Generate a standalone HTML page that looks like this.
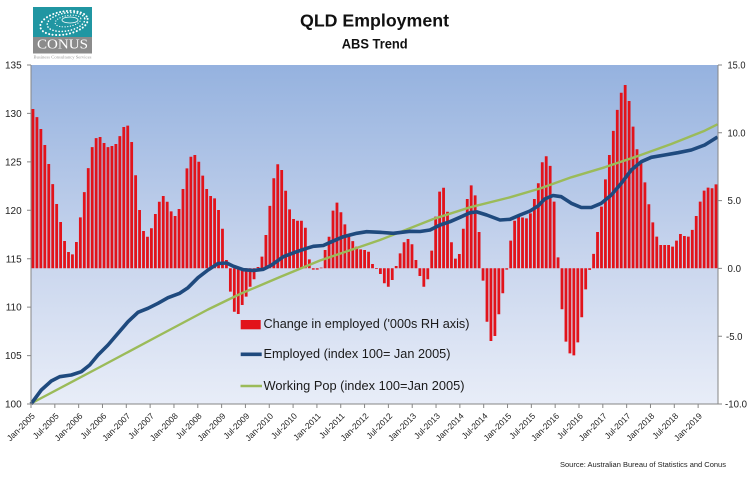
<!DOCTYPE html>
<html>
<head>
<meta charset="utf-8">
<style>
html,body{margin:0;padding:0;background:#fff;}
svg{display:block;}
text{font-family:"Liberation Sans",sans-serif;}
</style>
</head>
<body>
<svg width="750" height="489" viewBox="0 0 750 489" xmlns="http://www.w3.org/2000/svg">
<defs>
<linearGradient id="bg" x1="0" y1="0" x2="0" y2="1">
<stop offset="0" stop-color="#95b2df"/>
<stop offset="0.6" stop-color="#cbd7ee"/>
<stop offset="1" stop-color="#e8edf8"/>
</linearGradient>
</defs>
<rect x="0" y="0" width="750" height="489" fill="#fff"/>

<!-- Logo -->
<rect x="33" y="7" width="59" height="30" fill="#2096a2"/>
<rect x="33" y="37" width="59" height="16.5" fill="#8b8b8b"/>
<g fill="none" stroke="#fff" stroke-linecap="round">
<ellipse cx="68" cy="21" rx="13" ry="5.5" stroke-width="1.2" stroke-dasharray="0.1 2.6" transform="rotate(-10 68 21)"/>
<ellipse cx="66" cy="22" rx="19" ry="9" stroke-width="1.6" stroke-dasharray="0.1 3" transform="rotate(-10 66 22)"/>
<ellipse cx="64" cy="23" rx="24" ry="11.5" stroke-width="2" stroke-dasharray="0.1 3.4" transform="rotate(-10 64 23)"/>
<ellipse cx="70" cy="20" rx="8" ry="3" stroke-width="0.8"/>
</g>
<text x="62.5" y="48.6" text-anchor="middle" font-size="13.5" fill="#fff" textLength="51" lengthAdjust="spacingAndGlyphs" style="font-family:'Liberation Serif',serif">CONUS</text>
<text x="33.5" y="58.3" font-size="3.6" fill="#999" textLength="58" lengthAdjust="spacingAndGlyphs" style="font-family:'Liberation Serif',serif">Business Consultancy Services</text>

<!-- Titles -->
<text x="374.5" y="26.7" text-anchor="middle" font-size="17.7" font-weight="bold" fill="#111" textLength="149" lengthAdjust="spacingAndGlyphs">QLD Employment</text>
<text x="374.7" y="48.3" text-anchor="middle" font-size="13.5" font-weight="bold" fill="#111" textLength="66" lengthAdjust="spacingAndGlyphs">ABS Trend</text>

<!-- Plot area -->
<rect x="31" y="65" width="687" height="339" fill="url(#bg)"/>

<!-- Bars (secondary axis) -->
<g transform="translate(31,268.3) scale(3.948,-13.56)">
<path fill="#e2131b" d="M.145,0
v11.75h.709v-11.75m.291,0
v11.15h.709v-11.15m.291,0
v10.27h.709v-10.27m.291,0
v9.09h.709v-9.09m.291,0
v7.69h.709v-7.69m.291,0
v6.21h.709v-6.21m.291,0
v4.74h.709v-4.74m.291,0
v3.41h.709v-3.41m.291,0
v2.01h.709v-2.01m.291,0
v1.2h.709v-1.2m.291,0
v1.03h.709v-1.03m.291,0
v1.94h.709v-1.94m.291,0
v3.76h.709v-3.76m.291,0
v5.62h.709v-5.62m.291,0
v7.39h.709v-7.39m.291,0
v8.94h.709v-8.94m.291,0
v9.6h.709v-9.6m.291,0
v9.68h.709v-9.68m.291,0
v9.24h.709v-9.24m.291,0
v8.94h.709v-8.94m.291,0
v9.02h.709v-9.02m.291,0
v9.17h.709v-9.17m.291,0
v9.75h.709v-9.75m.291,0
v10.42h.709v-10.42m.291,0
v10.52h.709v-10.52m.291,0
v9.31h.709v-9.31m.291,0
v6.86h.709v-6.86m.291,0
v4.3h.709v-4.3m.291,0
v2.75h.709v-2.75m.291,0
v2.33h.709v-2.33m.291,0
v2.95h.709v-2.95m.291,0
v4h.709v-4m.291,0
v4.91h.709v-4.91m.291,0
v5.33h.709v-5.33m.291,0
v4.91h.709v-4.91m.291,0
v4.2h.709v-4.2m.291,0
v3.86h.709v-3.86m.291,0
v4.37h.709v-4.37m.291,0
v5.85h.709v-5.85m.291,0
v7.37h.709v-7.37m.291,0
v8.23h.709v-8.23m.291,0
v8.36h.709v-8.36m.291,0
v7.86h.709v-7.86m.291,0
v6.83h.709v-6.83m.291,0
v5.85h.709v-5.85m.291,0
v5.33h.709v-5.33m.291,0
v5.16h.709v-5.16m.291,0
v4.3h.709v-4.3m.291,0
v2.92h.709v-2.92m.291,0
v.61h.709v-.61m.291,0
v-1.72h.709v1.72m.291,0
v-3.2h.709v3.2m.291,0
v-3.37h.709v3.37m.291,0
v-2.71h.709v2.71m.291,0
v-2.09h.709v2.09m.291,0
v-1.36h.709v1.36m.291,0
v-.81h.709v.81m.291,0
v.1h.709v-.1m.291,0
v.86h.709v-.86m.291,0
v2.46h.709v-2.46m.291,0
v4.6h.709v-4.6m.291,0
v6.64h.709v-6.64m.291,0
v7.67h.709v-7.67m.291,0
v7.25h.709v-7.25m.291,0
v5.72h.709v-5.72m.291,0
v4.35h.709v-4.35m.291,0
v3.64h.709v-3.64m.291,0
v3.51h.709v-3.51m.291,0
v3.51h.709v-3.51m.291,0
v2.99h.709v-2.99m.291,0
v.66h.709v-.66m.291,0
v-.1h.709v.1m.291,0
v-.1h.709v.1m.291,0
v.05h.709v-.05m.291,0
v1.35h.709v-1.35m.291,0
v2.33h.709v-2.33m.291,0
v4.25h.709v-4.25m.291,0
v4.84h.709v-4.84m.291,0
v4.13h.709v-4.13m.291,0
v3.24h.709v-3.24m.291,0
v2.5h.709v-2.5m.291,0
v2h.709v-2m.291,0
v1.6h.709v-1.6m.291,0
v1.4h.709v-1.4m.291,0
v1.35h.709v-1.35m.291,0
v1.22h.709v-1.22m.291,0
v.32h.709v-.32m.291,0
v-.05h.709v.05m.291,0
v-.42h.709v.42m.291,0
v-1.1h.709v1.1m.291,0
v-1.36h.709v1.36m.291,0
v-.86h.709v.86m.291,0
v.17h.709v-.17m.291,0
v1.1h.709v-1.1m.291,0
v1.92h.709v-1.92m.291,0
v2.16h.709v-2.16m.291,0
v1.77h.709v-1.77m.291,0
v.61h.709v-.61m.291,0
v-.57h.709v.57m.291,0
v-1.36h.709v1.36m.291,0
v-.81h.709v.81m.291,0
v1.3h.709v-1.3m.291,0
v3.81h.709v-3.81m.291,0
v5.65h.709v-5.65m.291,0
v5.94h.709v-5.94m.291,0
v4.17h.709v-4.17m.291,0
v1.92h.709v-1.92m.291,0
v.71h.709v-.71m.291,0
v1.05h.709v-1.05m.291,0
v2.92h.709v-2.92m.291,0
v5.11h.709v-5.11m.291,0
v6.12h.709v-6.12m.291,0
v5.38h.709v-5.38m.291,0
v2.68h.709v-2.68m.291,0
v-.91h.709v.91m.291,0
v-3.94h.709v3.94m.291,0
v-5.36h.709v5.36m.291,0
v-4.99h.709v4.99m.291,0
v-3.39h.709v3.39m.291,0
v-1.84h.709v1.84m.291,0
v-.1h.709v.1m.291,0
v2.04h.709v-2.04m.291,0
v3.51h.709v-3.51m.291,0
v3.93h.709v-3.93m.291,0
v3.75h.709v-3.75m.291,0
v3.68h.709v-3.68m.291,0
v4.05h.709v-4.05m.291,0
v5.11h.709v-5.11m.291,0
v6.27h.709v-6.27m.291,0
v7.82h.709v-7.82m.291,0
v8.26h.709v-8.26m.291,0
v7.55h.709v-7.55m.291,0
v4.92h.709v-4.92m.291,0
v.81h.709v-.81m.291,0
v-3.02h.709v3.02m.291,0
v-5.41h.709v5.41m.291,0
v-6.27h.709v6.27m.291,0
v-6.42h.709v6.42m.291,0
v-5.46h.709v5.46m.291,0
v-3.61h.709v3.61m.291,0
v-1.55h.709v1.55m.291,0
v-.12h.709v.12m.291,0
v1.06h.709v-1.06m.291,0
v2.68h.709v-2.68m.291,0
v4.55h.709v-4.55m.291,0
v6.56h.709v-6.56m.291,0
v8.36h.709v-8.36m.291,0
v10.13h.709v-10.13m.291,0
v11.68h.709v-11.68m.291,0
v12.95h.709v-12.95m.291,0
v13.52h.709v-13.52m.291,0
v12.34h.709v-12.34m.291,0
v10.45h.709v-10.45m.291,0
v8.78h.709v-8.78m.291,0
v7.87h.709v-7.87m.291,0
v6.34h.709v-6.34m.291,0
v4.72h.709v-4.72m.291,0
v3.39h.709v-3.39m.291,0
v2.34h.709v-2.34m.291,0
v1.72h.709v-1.72m.291,0
v1.72h.709v-1.72m.291,0
v1.72h.709v-1.72m.291,0
v1.6h.709v-1.6m.291,0
v2.04h.709v-2.04m.291,0
v2.53h.709v-2.53m.291,0
v2.38h.709v-2.38m.291,0
v2.34h.709v-2.34m.291,0
v2.83h.709v-2.83m.291,0
v3.86h.709v-3.86m.291,0
v4.92h.709v-4.92m.291,0
v5.73h.709v-5.73m.291,0
v5.95h.709v-5.95m.291,0
v5.9h.709v-5.9m.291,0
v6.19h.709v-6.19m.291,0"/>
</g>

<!-- Working Pop line -->
<polyline fill="none" stroke="#9bbb59" stroke-width="2.4" stroke-linejoin="round"
points="31,403.5 100,367 160,335 208,309.5 240,294 280,277 320,260.5 380,240 433.3,219 470,207.3 510,197.3 540,188.5 571.3,177.3 604.7,167.3 638,156 671.3,144 704.7,130.7 717.5,124.3"/>

<!-- Employed line -->
<polyline fill="none" stroke="#1f4a7e" stroke-width="3.6" stroke-linejoin="round"
points="31,404 41.3,390 51.3,381 59.7,376.7 71.3,375 81.3,371.7 89.7,365 98,355 108,345 118,333.3 128,321.7 138,312.3 148,308.3 158,303.3 168,297.7 179.7,293.3 188,287.7 198,277.7 208,270 218,263.5 226.7,263 233.3,266.2 243.3,269.7 253.3,270.5 263.3,269.3 271.7,265 283.3,256.7 296.7,251.7 306.7,248.3 313.3,246.3 323.3,245.5 331.7,241.7 343.3,236.7 356.7,233.3 366.7,231.7 380,232.3 393.3,233.3 410,231.3 420,231.5 430,230 440,225 450,221.7 460,217.3 470,212.7 476.7,211.9 486.7,215 500,220 510,219.3 520,215 530,211 538,206 544.7,199 553,195.5 561.3,196.7 571.3,203.3 581.3,207.5 591.3,207.5 601.3,203.3 611.3,195 621.3,183.3 631.3,170 641.3,161.7 651.3,157.3 664.7,155 678,152.7 691.3,150 704.7,145 717.5,137"/>

<!-- Axes -->
<g stroke="#868686" stroke-width="1" fill="none">
<line x1="31" y1="65" x2="31" y2="404.5"/>
<line x1="718" y1="65" x2="718" y2="404.5"/>
<line x1="30.5" y1="404" x2="718.5" y2="404"/>
<path d="M27,65H31M27,113.43H31M27,161.86H31M27,210.29H31M27,258.71H31M27,307.14H31M27,355.57H31M27,404H31"/>
<path d="M718,65H722M718,132.8H722M718,200.6H722M718,268.4H722M718,336.2H722M718,404H722"/>
<path d="M31,404V408M54.83,404V408M78.65,404V408M102.48,404V408M126.3,404V408M150.13,404V408M173.96,404V408M197.78,404V408M221.61,404V408M245.43,404V408M269.26,404V408M293.09,404V408M316.91,404V408M340.74,404V408M364.56,404V408M388.39,404V408M412.22,404V408M436.04,404V408M459.87,404V408M483.69,404V408M507.52,404V408M531.35,404V408M555.17,404V408M579,404V408M602.82,404V408M626.65,404V408M650.48,404V408M674.3,404V408M698.13,404V408"/>
</g>

<!-- Left axis labels -->
<g font-size="10" fill="#222" text-anchor="end">
<text x="21.7" y="68.6">135</text>
<text x="21.7" y="117">130</text>
<text x="21.7" y="165.4">125</text>
<text x="21.7" y="213.9">120</text>
<text x="21.7" y="262.3">115</text>
<text x="21.7" y="310.7">110</text>
<text x="21.7" y="359.1">105</text>
<text x="21.7" y="407.6">100</text>
</g>

<!-- Right axis labels -->
<g font-size="10" fill="#222">
<text x="727.5" y="68.6" textLength="18" lengthAdjust="spacingAndGlyphs">15.0</text>
<text x="727.5" y="136.4" textLength="18" lengthAdjust="spacingAndGlyphs">10.0</text>
<text x="727.5" y="204.2" textLength="13.5" lengthAdjust="spacingAndGlyphs">5.0</text>
<text x="727.5" y="272" textLength="13.5" lengthAdjust="spacingAndGlyphs">0.0</text>
<text x="726" y="339.8" textLength="16.5" lengthAdjust="spacingAndGlyphs">-5.0</text>
<text x="725" y="407.6" textLength="22" lengthAdjust="spacingAndGlyphs">-10.0</text>
</g>

<!-- X axis labels -->
<g font-size="8.5" fill="#222" text-anchor="end">
<text transform="translate(35.5,416.5) rotate(-45)">Jan-2005</text>
<text transform="translate(59.33,416.5) rotate(-45)">Jul-2005</text>
<text transform="translate(83.15,416.5) rotate(-45)">Jan-2006</text>
<text transform="translate(106.98,416.5) rotate(-45)">Jul-2006</text>
<text transform="translate(130.8,416.5) rotate(-45)">Jan-2007</text>
<text transform="translate(154.63,416.5) rotate(-45)">Jul-2007</text>
<text transform="translate(178.46,416.5) rotate(-45)">Jan-2008</text>
<text transform="translate(202.28,416.5) rotate(-45)">Jul-2008</text>
<text transform="translate(226.11,416.5) rotate(-45)">Jan-2009</text>
<text transform="translate(249.93,416.5) rotate(-45)">Jul-2009</text>
<text transform="translate(273.76,416.5) rotate(-45)">Jan-2010</text>
<text transform="translate(297.59,416.5) rotate(-45)">Jul-2010</text>
<text transform="translate(321.41,416.5) rotate(-45)">Jan-2011</text>
<text transform="translate(345.24,416.5) rotate(-45)">Jul-2011</text>
<text transform="translate(369.06,416.5) rotate(-45)">Jan-2012</text>
<text transform="translate(392.89,416.5) rotate(-45)">Jul-2012</text>
<text transform="translate(416.72,416.5) rotate(-45)">Jan-2013</text>
<text transform="translate(440.54,416.5) rotate(-45)">Jul-2013</text>
<text transform="translate(464.37,416.5) rotate(-45)">Jan-2014</text>
<text transform="translate(488.19,416.5) rotate(-45)">Jul-2014</text>
<text transform="translate(512.02,416.5) rotate(-45)">Jan-2015</text>
<text transform="translate(535.85,416.5) rotate(-45)">Jul-2015</text>
<text transform="translate(559.67,416.5) rotate(-45)">Jan-2016</text>
<text transform="translate(583.5,416.5) rotate(-45)">Jul-2016</text>
<text transform="translate(607.32,416.5) rotate(-45)">Jan-2017</text>
<text transform="translate(631.15,416.5) rotate(-45)">Jul-2017</text>
<text transform="translate(654.98,416.5) rotate(-45)">Jan-2018</text>
<text transform="translate(678.8,416.5) rotate(-45)">Jul-2018</text>
<text transform="translate(702.63,416.5) rotate(-45)">Jan-2019</text>
</g>

<!-- Legend -->
<rect x="240.7" y="320" width="20" height="9.3" fill="#e2131b"/>
<text x="263.5" y="327.8" font-size="12.5" fill="#1a1a1a" textLength="206" lengthAdjust="spacingAndGlyphs">Change in employed ('000s RH axis)</text>
<line x1="240.7" y1="354.3" x2="261.7" y2="354.3" stroke="#1f4a7e" stroke-width="3.6"/>
<text x="263.5" y="358.2" font-size="12.5" fill="#1a1a1a" textLength="187" lengthAdjust="spacingAndGlyphs">Employed (index 100= Jan 2005)</text>
<line x1="240.5" y1="386" x2="262" y2="386" stroke="#9bbb59" stroke-width="2.4"/>
<text x="263.5" y="389.8" font-size="12.5" fill="#1a1a1a" textLength="201" lengthAdjust="spacingAndGlyphs">Working Pop (index 100=Jan 2005)</text>

<!-- Source -->
<text x="560" y="467" font-size="7.6" fill="#222" textLength="166" lengthAdjust="spacingAndGlyphs">Source: Australian Bureau of Statistics and Conus</text>
</svg>
</body>
</html>
